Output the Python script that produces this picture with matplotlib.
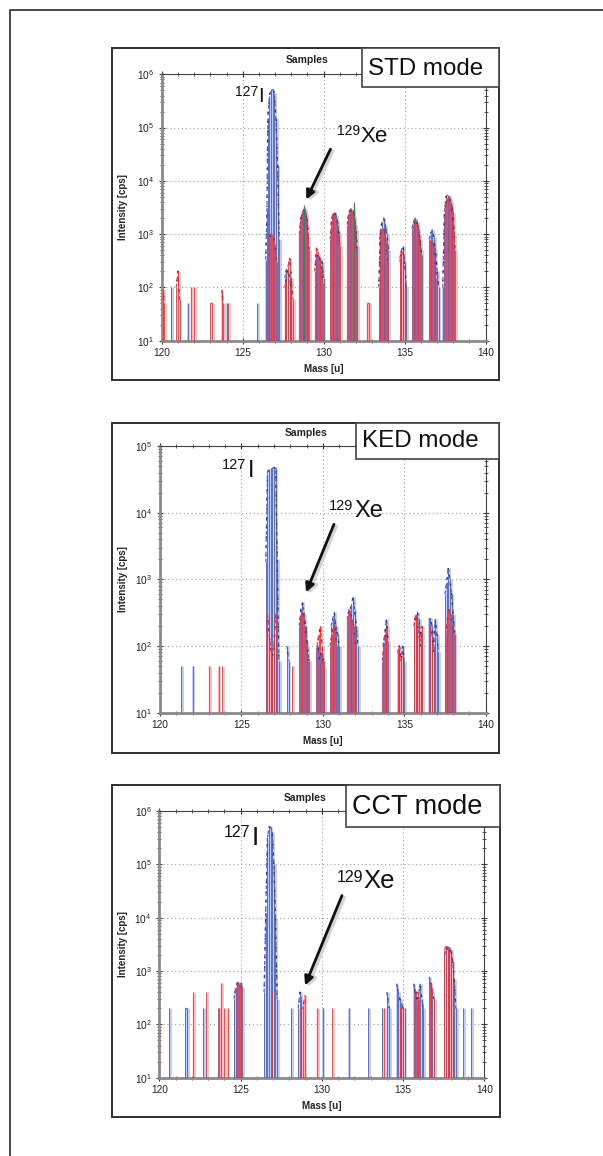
import numpy as np
import matplotlib
matplotlib.use("Agg")
import matplotlib.pyplot as plt
from matplotlib.patches import Rectangle
from matplotlib.lines import Line2D
from matplotlib.ticker import LogLocator, LogFormatterSciNotation, MultipleLocator, NullFormatter

plt.rcParams['font.family'] = ['Liberation Sans', 'DejaVu Sans']
plt.rcParams['mathtext.fontset'] = 'custom'
plt.rcParams['mathtext.rm'] = 'Liberation Sans'

# ---------------- data (mass [u], intensity [cps]) ----------------
std_blue_mass = [120.6, 121.6, 124.0, 125.9,
                 126.42, 126.5, 126.55, 126.65, 126.75, 126.85, 126.95, 127.05, 127.15, 127.25,
                 127.6, 127.7, 127.8, 127.9, 128.0,
                 128.55, 128.65, 128.75, 128.85, 128.95, 129.05,
                 129.5, 129.6, 129.7, 129.8, 129.9, 130.0,
                 130.45, 130.55, 130.65, 130.75, 130.85, 130.95,
                 131.5, 131.6, 131.7, 131.8, 131.9, 132.0, 132.05,
                 133.4, 133.5, 133.6, 133.7, 133.8, 133.9, 134.0,
                 134.7, 134.8, 134.9, 135.0, 135.1,
                 135.45, 135.55, 135.65, 135.75, 135.85, 135.95, 136.05,
                 136.5, 136.6, 136.7, 136.8, 136.9, 137.0, 137.1,
                 137.35, 137.45, 137.55, 137.65, 137.75, 137.85, 137.95, 138.05]
std_blue_int = [100, 50, 50, 50,
                330, 3000, 1.5e5, 4e5, 5.2e5, 5.2e5, 4.5e5, 1.5e5, 2e4, 800,
                150, 220, 200, 150, 80,
                1500, 2500, 2800, 3000, 2000, 900,
                300, 400, 380, 350, 300, 150,
                1500, 2300, 2600, 2300, 1800, 1000,
                2000, 2800, 3000, 2800, 2200, 1200, 600,
                100, 1200, 1700, 2000, 1500, 1000, 500,
                350, 500, 600, 300, 100,
                1300, 1700, 2000, 1700, 1300, 800, 400,
                800, 1000, 1200, 900, 500, 200, 100,
                100, 2500, 5000, 5500, 5200, 4000, 2000, 1000]
std_red_mass = [120.1, 120.15, 120.9, 121.0, 121.1, 121.8, 122.0, 123.0, 123.1, 123.7, 123.8, 124.1,
                126.6, 126.7, 126.8, 126.9, 127.0, 127.1,
                127.6, 127.7, 127.8, 127.9, 128.0, 128.1,
                128.5, 128.6, 128.7, 128.8, 128.9, 129.0, 129.1,
                129.45, 129.55, 129.65, 129.75, 129.85, 129.95,
                130.4, 130.5, 130.6, 130.7, 130.8, 130.9, 131.0,
                131.45, 131.55, 131.65, 131.75, 131.85, 131.95, 132.05,
                132.7, 132.8,
                133.45, 133.55, 133.65, 133.75, 133.85, 133.95,
                134.7, 134.8, 134.9, 135.0,
                135.5, 135.6, 135.7, 135.8, 135.9, 136.0,
                136.55, 136.65, 136.75, 136.85, 136.95,
                137.5, 137.6, 137.7, 137.8, 137.9, 138.0, 138.1]
std_red_int = [90, 50, 100, 200, 60, 100, 100, 50, 50, 90, 50, 50,
               700, 1000, 1000, 900, 600, 300,
               100, 150, 250, 350, 150, 60,
               1000, 2200, 2600, 2800, 2400, 1500, 500,
               200, 550, 450, 350, 250, 120,
               800, 2000, 2400, 2200, 1900, 1200, 600,
               1500, 2500, 2800, 2700, 2300, 1500, 400,
               50, 50,
               800, 1200, 1300, 1100, 700, 300,
               300, 450, 500, 200,
               1200, 1600, 1800, 1500, 1000, 500,
               700, 750, 700, 400, 150,
               3000, 4500, 5000, 4500, 3500, 2500, 500]
std_green_mass = [128.8, 131.85]
std_green_int = [3500, 4000]

ked_blue_mass = [121.3, 122.0,
                 126.5, 126.6, 126.7, 126.8, 126.9, 127.0, 127.1, 127.2, 127.3,
                 127.8, 127.9,
                 128.55, 128.65, 128.75, 128.85, 128.95, 129.05, 129.15,
                 129.6, 129.7, 129.8, 129.9, 130.0, 130.1,
                 130.5, 130.6, 130.7, 130.8, 130.9, 131.0,
                 131.55, 131.65, 131.75, 131.85, 131.95, 132.05, 132.15,
                 133.7, 133.8, 133.9, 134.0,
                 134.6, 134.7, 134.8, 134.9, 135.0,
                 135.6, 135.7, 135.8, 135.9, 136.0, 136.1,
                 136.5, 136.6, 136.7, 136.8, 136.9, 137.0, 137.1,
                 137.5, 137.6, 137.7, 137.8, 137.9, 138.0, 138.1]
ked_blue_int = [50, 50,
                1800, 4e4, 4.5e4, 4.6e4, 4.6e4, 4.8e4, 4.6e4, 2000, 60,
                100, 60,
                200, 350, 450, 300, 200, 100, 60,
                90, 100, 60, 80, 60, 50,
                200, 250, 320, 200, 150, 100,
                300, 350, 400, 550, 350, 200, 100,
                100, 150, 250, 120,
                80, 100, 60, 100, 60,
                200, 280, 320, 250, 150, 120,
                250, 260, 200, 100, 250, 150, 80,
                600, 900, 1500, 1000, 600, 300, 150]
ked_red_mass = [123.0, 123.6, 123.8,
                126.6, 126.7, 126.8, 126.9, 127.0, 127.1,
                128.1,
                128.6, 128.7, 128.8, 128.9, 129.0, 129.1,
                129.65, 129.75, 129.85, 129.95, 130.05,
                130.45, 130.55, 130.65, 130.75, 130.85,
                131.5, 131.6, 131.7, 131.8, 131.9, 132.0,
                133.65, 133.75, 133.85, 133.95,
                134.6, 134.7, 134.8, 134.9,
                135.6, 135.7, 135.8, 135.9, 136.0, 136.1,
                136.6, 136.7, 136.8,
                137.55, 137.65, 137.75, 137.85, 137.95, 138.05]
ked_red_int = [50, 50, 50,
               300, 150, 90, 70, 100, 300,
               50,
               250, 300, 300, 200, 120, 60,
               100, 150, 200, 100, 60,
               100, 150, 200, 200, 100,
               250, 350, 300, 250, 200, 100,
               60, 100, 150, 200,
               80, 100, 60, 80,
               200, 300, 250, 150, 100, 200,
               200, 150, 80,
               150, 250, 350, 300, 200, 150]

cct_blue_mass = [120.6, 121.6, 121.7, 122.7, 123.7,
                 124.6, 124.7, 124.8, 124.9, 125.0, 125.1,
                 126.45, 126.55, 126.65, 126.75, 126.85, 126.95, 127.05, 127.15, 127.25,
                 128.1,
                 128.55, 128.65, 128.75,
                 130.05, 131.65, 132.85, 133.7, 134.0, 134.15,
                 134.6, 134.7, 134.8, 134.9, 135.0, 135.1,
                 135.65, 135.75, 135.85, 135.95, 136.05, 136.15, 136.25,
                 136.6, 136.7, 136.8, 136.9,
                 137.55, 137.65, 137.75, 137.85, 137.95, 138.05, 138.15, 138.25,
                 138.7, 139.2]
cct_blue_int = [200, 200, 200, 200, 200,
                300, 500, 600, 600, 620, 500,
                400, 1.2e4, 3e5, 5e5, 5e5, 4e5, 1e5, 1e4, 300,
                200,
                200, 400, 300,
                200, 200, 200, 200, 400, 200,
                580, 400, 300, 250, 200, 200,
                580, 400, 300, 350, 580, 300, 200,
                780, 600, 400, 300,
                2000, 2500, 2800, 2700, 2500, 1500, 700, 200,
                200, 200]
cct_red_mass = [122.1, 122.9, 123.6, 123.8, 124.0, 124.2,
                124.75, 124.85, 124.95, 125.05,
                126.95,
                128.75, 128.85, 128.95,
                129.7, 130.65, 133.85,
                134.8, 134.9, 135.0,
                135.7, 135.8, 135.9, 136.0,
                136.65, 136.75, 136.9,
                137.55, 137.65, 137.75, 137.85, 137.95, 138.05]
cct_red_int = [400, 400, 200, 600, 200, 200,
               400, 600, 600, 500,
               400,
               200, 200, 350,
               200, 200, 200,
               200, 200, 200,
               300, 400, 400, 300,
               600, 500, 300,
               2500, 3000, 2500, 2800, 2200, 1500]

x_ticks = [120, 125, 130, 135, 140]

# ---------------- styling ----------------
BLUE = '#4d62b8'
BLUE_PALE = '#c2cbea'
RED = '#ee3340'
RED_PALE = '#f9bcbc'
NAVY = '#22308a'
DARKRED = '#c8101c'

W, H = 603, 1156
fig = plt.figure(figsize=(W / 100, H / 100), dpi=100)


def fx(px):
    return px / W


def fy(py):
    return 1 - py / H


def draw_series(ax, mass, inten, line_c, pale_c, env_c):
    m = np.asarray(mass, float)
    v = np.asarray(inten, float)
    ax.vlines(m + 0.045, 10, v, colors=pale_c, lw=2.0, zorder=2)
    ax.vlines(m, 10, v, colors=line_c, lw=0.6, zorder=3)
    # dashed envelope per contiguous group
    breaks = np.where(np.diff(m) > 0.16)[0] + 1
    for gm, gv in zip(np.split(m, breaks), np.split(v, breaks)):
        if len(gm) > 1:
            ax.plot(gm, gv, color=line_c, lw=0.9, ls=(0, (3, 2.5)), zorder=4)
            ax.plot(gm, gv, color=env_c, lw=0.9, ls=(3, (1.5, 6)), zorder=4)


def make_panel(rect_px, ymax, blue, red, green=None):
    l, t, r, b = rect_px
    ax = fig.add_axes([fx(l), fy(b), fx(r - l), (b - t) / H])
    ax.set_yscale('log')
    ax.set_xlim(120, 140)
    ax.set_ylim(10, ymax)
    draw_series(ax, *blue, BLUE, BLUE_PALE, NAVY)
    draw_series(ax, *red, RED, RED_PALE, DARKRED)
    if green is not None:
        ax.vlines(green[0], 10, green[1], colors='#2e8b3a', lw=0.9, zorder=5)
    ax.set_xticks(x_ticks)
    ax.xaxis.set_minor_locator(MultipleLocator(1))
    ax.yaxis.set_major_locator(LogLocator(base=10, numticks=10))
    ax.yaxis.set_minor_locator(LogLocator(base=10, subs=np.arange(2, 10), numticks=20))
    ax.yaxis.set_major_formatter(LogFormatterSciNotation())
    ax.yaxis.set_minor_formatter(NullFormatter())
    ax.grid(True, which='major', color='#9a9a9a', lw=0.8, ls=(0, (1, 2.5)))
    ax.tick_params(which='major', direction='inout', length=5, width=0.8, labelsize=7.3,
                   top=True, right=True, colors='#333333', labelcolor='#222222', pad=3)
    ax.tick_params(which='minor', direction='inout', length=3, width=0.6,
                   top=True, right=True, colors='#333333')
    for s in ['left', 'bottom']:
        ax.spines[s].set_color('#8a8a8a')
        ax.spines[s].set_linewidth(2.0)
    for s in ['top', 'right']:
        ax.spines[s].set_color('#444444')
        ax.spines[s].set_linewidth(0.8)
    ax.set_xlabel('Mass [u]', fontsize=7, fontweight='bold', color='#222222')
    ax.set_ylabel('Intensity [cps]', fontsize=7, fontweight='bold', color='#222222')
    ax.xaxis.set_label_coords(0.5, -(369 - 340.7) / (b - t))
    ax.xaxis.label.set_va('center')
    ax.yaxis.set_label_coords(-(l - 123) / (r - l), 0.5)
    ax.yaxis.label.set_va('center')
    ax.set_axisbelow(True)
    return ax


ax1 = make_panel((161.7, 74.3, 485.7, 340.7), 1e6,
                 (std_blue_mass, std_blue_int), (std_red_mass, std_red_int),
                 (std_green_mass, std_green_int))
ax2 = make_panel((160.0, 446.0, 485.7, 712.7), 1e5,
                 (ked_blue_mass, ked_blue_int), (ked_red_mass, ked_red_int))
ax3 = make_panel((159.3, 811.0, 484.3, 1077.7), 1e6,
                 (cct_blue_mass, cct_blue_int), (cct_red_mass, cct_red_int))

# ---------------- overlay in pixel coordinates ----------------
ov = fig.add_axes([0, 0, 1, 1], zorder=10)
ov.set_xlim(0, W)
ov.set_ylim(H, 0)
ov.axis('off')
ov.patch.set_visible(False)

# outer frame
ov.add_line(Line2D([10, 10, W + 5], [H + 5, 10, 10], color='#3a3a3a', lw=1.3))

panels = [
    dict(box=(111.7, 47.5, 499, 380), mode=(361.7, 47.5, 499, 86.7), mtext='STD mode',
         mpos=(368, 75), msize=17.4, samples=(306.7, 60),
         i127=(258, 95.7, 258.5, 101.7, 10, 14.5),
         xe129=(360, 135, 360.5, 141.7, 10, 16),
         arrow=((331.7, 146.7), (305, 202))),
    dict(box=(111.7, 422.7, 499, 752.7), mode=(355.7, 422.7, 499, 459.3), mtext='KED mode',
         mpos=(362, 446.7), msize=17.4, samples=(305.7, 432.7),
         i127=(246.7, 469, 248, 476.7, 10.5, 17),
         xe129=(353.3, 510, 354.5, 517.3, 10.5, 17),
         arrow=((335, 521.7), (305, 595))),
    dict(box=(111.7, 785, 500, 1116.5), mode=(345.7, 785, 500, 827.3), mtext='CCT mode',
         mpos=(352, 814), msize=19.5, samples=(305, 797.7),
         i127=(250, 836.7, 251.5, 845, 11.5, 19),
         xe129=(363, 881.7, 363.5, 888, 11.5, 18.5),
         arrow=((343, 893), (304, 988))),
]

for p in panels:
    l, t, r, b = p['box']
    ov.add_patch(Rectangle((l, t), r - l, b - t, fill=False, ec='#2e2e2e', lw=1.4))
    ml, mt, mr, mb = p['mode']
    ov.add_patch(Rectangle((ml, mt), mr - ml, mb - mt, fc='white', ec='#444444', lw=1.2, zorder=3))
    ov.text(p['mpos'][0], p['mpos'][1], p['mtext'], fontsize=p['msize'], ha='left',
            va='baseline', color='#111111', zorder=4)
    ov.text(p['samples'][0], p['samples'][1], 'Samples', fontsize=7.5, fontweight='bold',
            ha='center', va='center', color='#222222')
    x1, y1, x2, y2, s1, s2 = p['i127']
    ov.text(x1, y1, '127', fontsize=s1, ha='right', va='baseline', color='#111111')
    ov.text(x2, y2, 'I', fontsize=s2, ha='left', va='baseline', color='#111111')
    x1, y1, x2, y2, s1, s2 = p['xe129']
    ov.text(x1, y1, '129', fontsize=s1, ha='right', va='baseline', color='#111111')
    ov.text(x2, y2, 'Xe', fontsize=s2, ha='left', va='baseline', color='#111111')
    (sx, sy), (ex, ey) = p['arrow']
    ov.annotate('', xy=(ex + 2, ey + 2), xytext=(sx + 2, sy + 2),
                arrowprops=dict(arrowstyle='-|>', color='#d4d4d4', lw=2.8, mutation_scale=14))
    ov.annotate('', xy=(ex, ey), xytext=(sx, sy),
                arrowprops=dict(arrowstyle='-|>', color='#111111', lw=2.0, mutation_scale=13))

fig.savefig('out.png', dpi=100)
